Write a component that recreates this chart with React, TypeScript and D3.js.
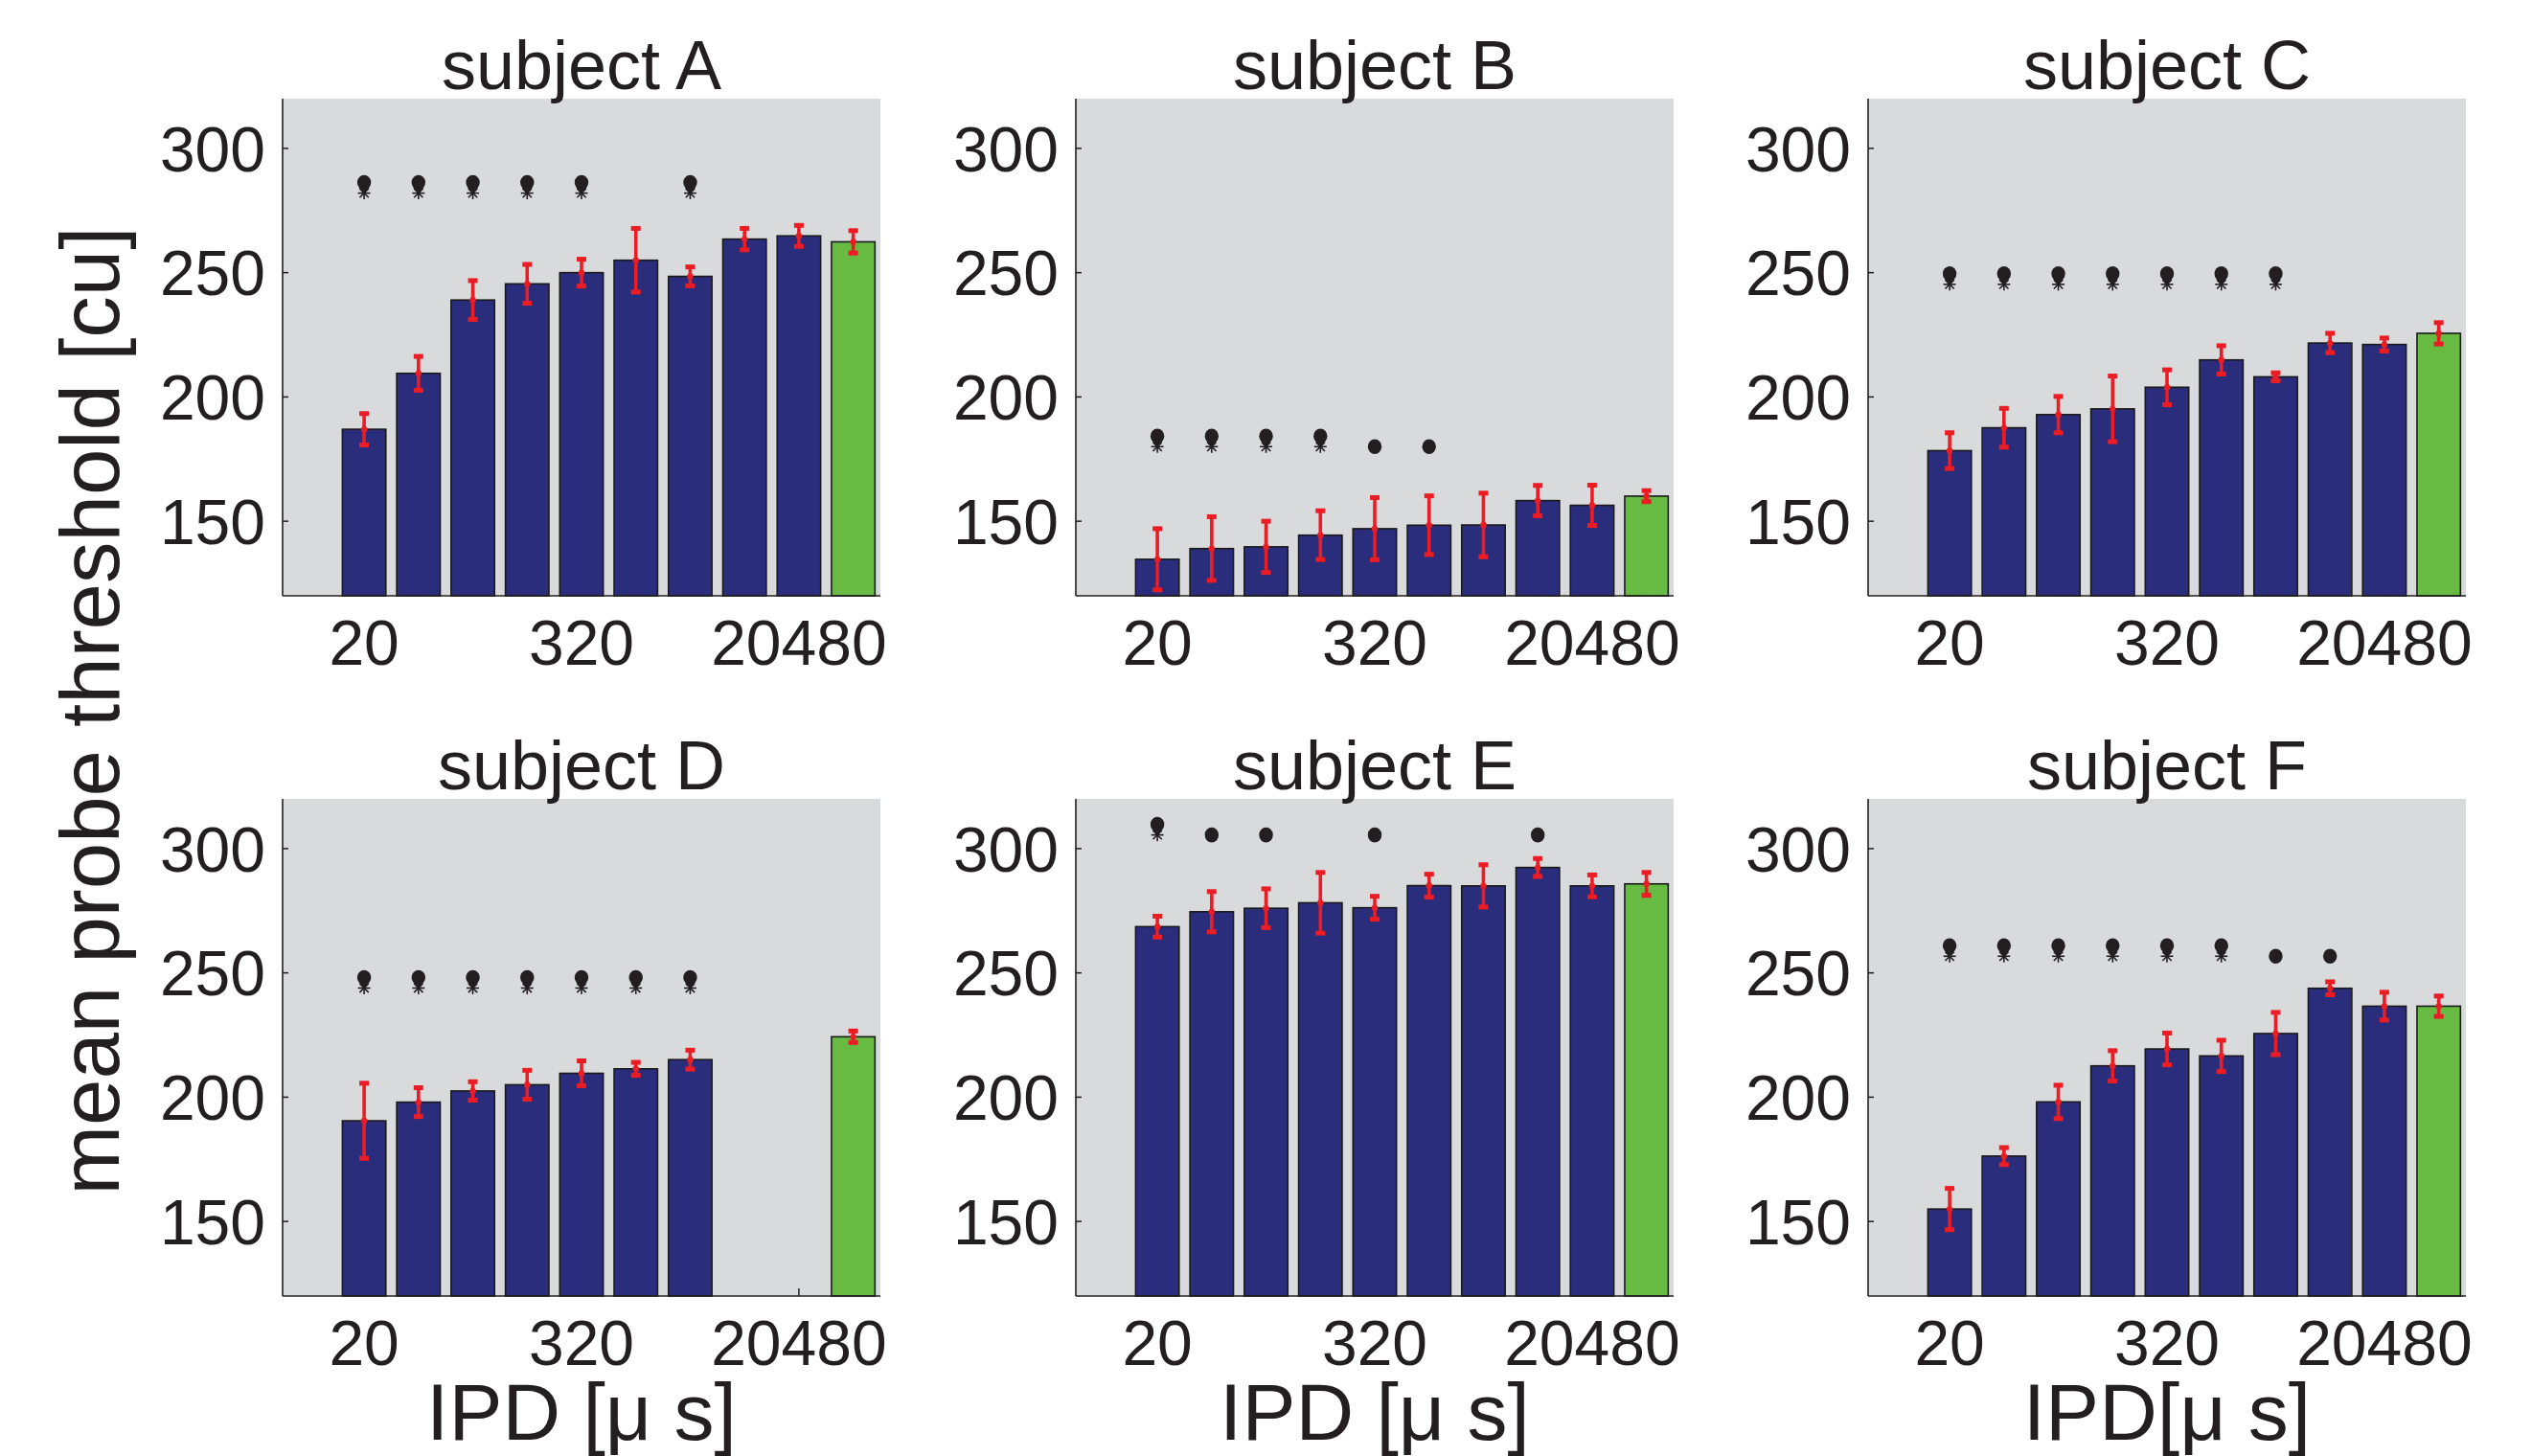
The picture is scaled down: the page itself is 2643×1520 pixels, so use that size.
import React from "react";
import * as d3 from "d3";

// panel ids and bar slots (slot 10 = green reference bar)
const subjects = ["A", "B", "C", "D", "E", "F"];
const slots = [1, 2, 3, 4, 5, 6, 7, 8, 9, 10];
const xTickPos = [1, 5, 9];
const xTickLabels = ["20", "320", "20480"];
const yTicks = [150, 200, 250, 300];
const xLabels = ["IPD [\u03bc s]", "IPD [\u03bc s]", "IPD[\u03bc s]"];

// mean thresholds per subject
const meanA = [187, 209.5, 239, 245.5, 250, 255, 248.5, 263.5, 264.8, 262.4];
const meanB = [134.7, 139, 139.7, 144.4, 147, 148.4, 148.5, 158.3, 156.4, 160.1];
const meanC = [178.4, 187.6, 192.9, 195.2, 203.9, 214.9, 208.1, 221.7, 221.1, 225.6];
const meanD = [190.5, 198, 202.5, 205, 209.6, 211.4, 215.1, null, null, 224.3];
const meanE = [268.6, 274.6, 276, 278.2, 276.2, 285.1, 285, 292.4, 285, 285.8];
const meanF = [155, 176.3, 198.1, 212.6, 219.4, 216.6, 225.6, 243.8, 236.6, 236.6];

// error half-widths
const errA = [6.5, 7, 8, 8, 5.6, 13, 4, 4.5, 4.4, 4.7];
const errB = [12.5, 13, 10.5, 10, 12.7, 12, 13, 6.3, 8.3, 2.4];
const errC = [7.4, 8, 7.5, 13.4, 7.2, 5.9, 1.8, 4.1, 2.8, 4.5];
const errD = [15.3, 6, 3.9, 6, 5.2, 2.8, 4, null, null, 2.5];
const errE = [4.4, 8.3, 8, 12.4, 4.8, 4.8, 8.7, 3.8, 4.6, 4.8];
const errF = [8.5, 3.6, 6.9, 6.3, 6.6, 6.5, 8.7, 2.8, 5.8, 4.3];

// significance marks: 0 none, 1 dot, 2 dot + asterisk
const sigA = [2, 2, 2, 2, 2, 0, 2, 0, 0, 0];
const sigB = [2, 2, 2, 2, 1, 1, 0, 0, 0, 0];
const sigC = [2, 2, 2, 2, 2, 2, 2, 0, 0, 0];
const sigD = [2, 2, 2, 2, 2, 2, 2, 0, 0, 0];
const sigE = [2, 1, 1, 0, 1, 0, 0, 1, 0, 0];
const sigF = [2, 2, 2, 2, 2, 2, 1, 1, 0, 0];
const sigLevel = [282, 180, 245.3, 243.9, 305.5, 256.7];

const means = [meanA, meanB, meanC, meanD, meanE, meanF];
const errs = [errA, errB, errC, errD, errE, errF];
const sigs = [sigA, sigB, sigC, sigD, sigE, sigF];

const W = 2643, H = 1520;
const colX = [295, 1123, 1950];
const rowY = [103, 834];
const panelW = 624, panelH = 519;
const font = "'Liberation Sans', Arial, Helvetica, sans-serif";
const ink = "#231f20";
const navy = "#2a2c7c";
const green = "#67bb43";
const red = "#ec1c24";
const bg = "#d9dadc";

function Panel({ idx }: { idx: number }) {
  const col = idx % 3, row = Math.floor(idx / 3);
  const x0 = colX[col], y0 = rowY[row];
  const x = d3.scaleLinear().domain([-0.5, 10.5]).range([x0, x0 + panelW]);
  const y = d3.scaleLinear().domain([120, 320]).range([y0 + panelH, y0]);
  const bw = x(0.8) - x(0);
  const mean = means[idx], err = errs[idx], sig = sigs[idx];
  const bottom = y(120);

  const asterisk = (cx: number, cy: number, k: number) => {
    const s = 6.5;
    const d = s * 0.72;
    return (
      <g key={k} stroke={ink} strokeWidth={1.6}>
        <line x1={cx} y1={cy - s} x2={cx} y2={cy + s} />
        <line x1={cx - s} y1={cy} x2={cx + s} y2={cy} />
        <line x1={cx - d} y1={cy - d} x2={cx + d} y2={cy + d} />
        <line x1={cx - d} y1={cy + d} x2={cx + d} y2={cy - d} />
      </g>
    );
  };

  return (
    <g>
      <rect x={x0} y={y0} width={panelW} height={panelH} fill={bg} />
      <text x={x0 + panelW / 2} y={y0 - 10} textAnchor="middle" fontSize={72} fill={ink} fontFamily={font}>
        {"subject " + subjects[idx]}
      </text>
      {xTickPos.map((p) => (
        <line key={p} x1={x(p)} x2={x(p)} y1={bottom} y2={bottom - 8} stroke={ink} strokeWidth={1.5} />
      ))}
      {slots.map((s, i) =>
        mean[i] == null ? null : (
          <rect
            key={s}
            x={x(s) - bw / 2}
            y={y(mean[i] as number)}
            width={bw}
            height={bottom - y(mean[i] as number)}
            fill={i === 9 ? green : navy}
            stroke="#1a1a1a"
            strokeWidth={1.6}
          />
        )
      )}
      {slots.map((s, i) => {
        if (mean[i] == null) return null;
        const m = mean[i] as number, e = err[i] as number;
        const cx = x(s);
        return (
          <g key={s} fill={red}>
            <line x1={cx} x2={cx} y1={y(m - e)} y2={y(m + e)} stroke={red} strokeWidth={3.6} />
            <rect x={cx - 5} y={y(m + e) - 2} width={10} height={5} />
            <rect x={cx - 5} y={y(m - e) - 3} width={10} height={5} />
            <circle cx={cx} cy={y(m)} r={3.2} />
          </g>
        );
      })}
      {slots.map((s, i) => {
        if (!sig[i]) return null;
        const cx = x(s), cy = y(sigLevel[idx]);
        if (sig[i] === 1) return <ellipse key={s} cx={cx} cy={cy} rx={7.2} ry={7.8} fill={ink} />;
        return (
          <g key={s}>
            <ellipse cx={cx} cy={cy - 11} rx={7.2} ry={7.8} fill={ink} />
            <path d={`M${cx - 5},${cy - 6} L${cx},${cy + 1} L${cx + 5},${cy - 6} Z`} fill={ink} />
            {asterisk(cx, cy, s)}
          </g>
        );
      })}
      <line x1={x0} x2={x0} y1={y0} y2={bottom} stroke={ink} strokeWidth={1.6} />
      <line x1={x0} x2={x0 + panelW} y1={bottom} y2={bottom} stroke={ink} strokeWidth={1.6} />
      {yTicks.map((t) => (
        <g key={t}>
          <line x1={x0} x2={x0 + 6} y1={y(t)} y2={y(t)} stroke={ink} strokeWidth={1.5} />
          <text x={x0 - 18} y={y(t)} dy="0.36em" textAnchor="end" fontSize={66} fill={ink} fontFamily={font}>
            {t}
          </text>
        </g>
      ))}
      {xTickPos.map((p, i) => (
        <text key={p} x={x(p)} y={bottom + 72} textAnchor="middle" fontSize={66} fill={ink} fontFamily={font}>
          {xTickLabels[i]}
        </text>
      ))}
      {row === 1 && (
        <text x={x0 + panelW / 2} y={1503} textAnchor="middle" fontSize={84} fill={ink} fontFamily={font}>
          {xLabels[col]}
        </text>
      )}
    </g>
  );
}

export default function App() {
  return (
    <svg
      width={W}
      height={H}
      style={{ position: "absolute", left: 0, top: 0, background: "#fff" }}
    >
      <rect width={W} height={H} fill="#fff" />
      {subjects.map((s, i) => (
        <Panel key={s} idx={i} />
      ))}
      <text
        transform={`translate(93, 742) rotate(-90)`}
        dy="0.36em"
        textAnchor="middle"
        fontSize={87}
        fill={ink}
        fontFamily={font}
      >
        mean probe threshold [cu]
      </text>
    </svg>
  );
}
